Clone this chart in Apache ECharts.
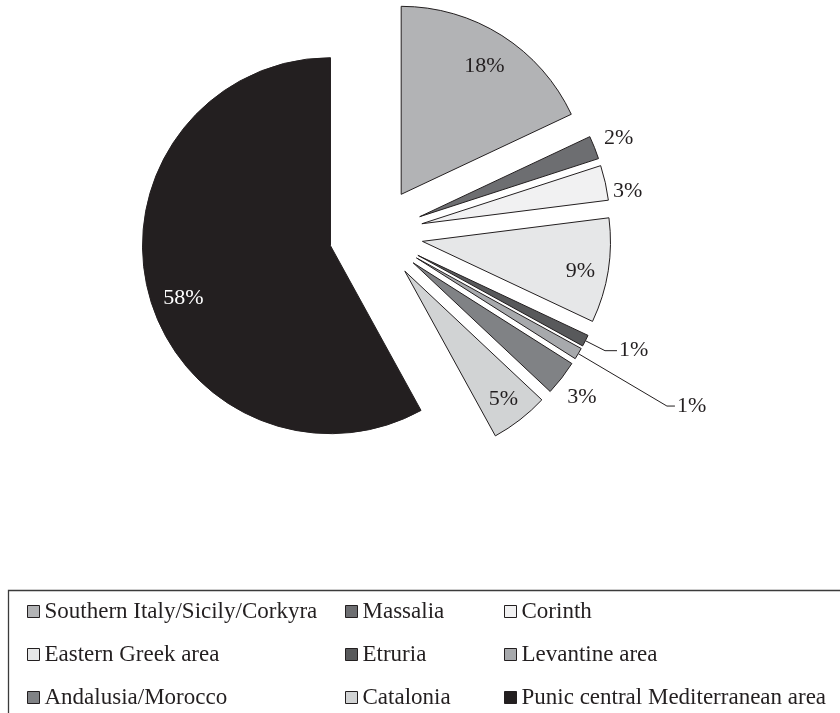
<!DOCTYPE html>
<html><head><meta charset="utf-8">
<script src="https://cdn.jsdelivr.net/npm/echarts@6/dist/echarts.min.js"></script>
<style>html,body{margin:0;padding:0;background:#fff}#c{width:840px;height:713px}</style>
</head><body><div id="c"></div>
<script>
const categories = ['Southern Italy/Sicily/Corkyra','Massalia','Corinth','Eastern Greek area','Etruria','Levantine area','Andalusia/Morocco','Catalonia','Punic central Mediterranean area'];
const values = [18, 2, 3, 9, 1, 1, 3, 5, 58];
const colors = ['#b2b3b5','#6d6e71','#f1f1f2','#e6e7e8','#58595b','#a7a9ac','#808285','#d1d3d4','#231f20'];
const insideLabels = ['Southern Italy/Sicily/Corkyra','Eastern Greek area','Catalonia','Punic central Mediterranean area'];
const outerLabels = ['Massalia','Corinth','Andalusia/Morocco'];
const leaderLabels = ['Etruria','Levantine area'];
const legendColumns = [
  ['Southern Italy/Sicily/Corkyra','Eastern Greek area','Andalusia/Morocco'],
  ['Massalia','Etruria','Catalonia'],
  ['Corinth','Levantine area','Punic central Mediterranean area']
];

const FONT = 'Liberation Serif';
const INK = '#231f20';
const pctFmt = p => Math.round(p.percent) + '%';

const base = {
  type: 'pie', center: [376, 234], startAngle: 90, clockwise: true,
  selectedMode: 'multiple', selectedOffset: 47, avoidLabelOverlap: false,
  animation: false, emphasis: { disabled: true }
};

const leaderCfg = {
  'Etruria': { length: 22, length2: 12 },
  'Levantine area': { length: 103, length2: 8 }
};

// small label nudges in pixels
const labelNudge = {
  'Southern Italy/Sicily/Corkyra': { dx: -3, dy: 8 },
  'Eastern Greek area': { dx: -1, dy: 5 },
  'Catalonia': { dx: 0, dy: 1 },
  'Punic central Mediterranean area': { dx: 9, dy: 12 },
  'Corinth': { dx: -4, dy: 14 },
  'Massalia': { dx: -1, dy: 1 },
  'Andalusia/Morocco': { dx: -1, dy: 3 },
  'Etruria': { dx: 0, dy: -2 },
  'Levantine area': { dx: 0, dy: -2 }
};
const nudgeLayout = p => labelNudge[categories[p.dataIndex]] || {};

const mainData = categories.map((n, i) => {
  const lead = leaderLabels.includes(n);
  return {
    name: n, value: values[i], selected: true,
    itemStyle: { color: colors[i] },
    label: { show: lead },
    labelLine: lead ? { show: true, length: leaderCfg[n].length, length2: leaderCfg[n].length2 } : { show: false }
  };
});

const overlayData = list => categories.map((n, i) => ({
  name: n, value: values[i], selected: true,
  label: Object.assign({ show: list.includes(n) },
    n === 'Punic central Mediterranean area' ? { color: '#ffffff' } : {})
}));

const chart = echarts.init(document.getElementById('c'), null, { renderer: 'canvas' });
chart.setOption({
  backgroundColor: '#ffffff',
  graphic: [{
    type: 'rect', silent: true, z: -1,
    shape: { x: 8.5, y: 590.5, width: 900, height: 200 },
    style: { fill: 'none', stroke: '#3b3b3b', lineWidth: 1.3 }
  }],
  legend: legendColumns.map((col, i) => ({
    orient: 'vertical', left: [27, 345, 504][i], top: 600, padding: 0,
    itemWidth: 12, itemHeight: 12, itemGap: 20, icon: 'rect',
    selectedMode: false, data: col,
    textStyle: { fontFamily: FONT, fontSize: 23, color: INK, lineHeight: 22 },
    itemStyle: { borderColor: INK, borderWidth: 1 }
  })),
  series: [
    Object.assign({}, base, {
      name: 'main', radius: [0, 188],
      itemStyle: { borderColor: INK, borderWidth: 1 },
      label: { position: 'outside', formatter: pctFmt, fontFamily: FONT, fontSize: 22, color: INK, distanceToLabelLine: 2 },
      labelLine: { lineStyle: { color: INK, width: 1 }, smooth: false },
      data: mainData
    }),
    Object.assign({}, base, {
      name: 'inLabels', radius: [140, 176], silent: true, z: 3,
      itemStyle: { color: 'rgba(0,0,0,0)', borderWidth: 0 },
      label: { position: 'inside', formatter: pctFmt, fontFamily: FONT, fontSize: 22, color: INK },
      labelLine: { show: false },
      labelLayout: nudgeLayout,
      data: overlayData(insideLabels)
    }),
    Object.assign({}, base, {
      name: 'outLabels', radius: [196, 228], silent: true, z: 3,
      itemStyle: { color: 'rgba(0,0,0,0)', borderWidth: 0 },
      label: { position: 'inside', formatter: pctFmt, fontFamily: FONT, fontSize: 22, color: INK },
      labelLine: { show: false },
      labelLayout: nudgeLayout,
      data: overlayData(outerLabels)
    })
  ]
});
</script>
</body></html>
